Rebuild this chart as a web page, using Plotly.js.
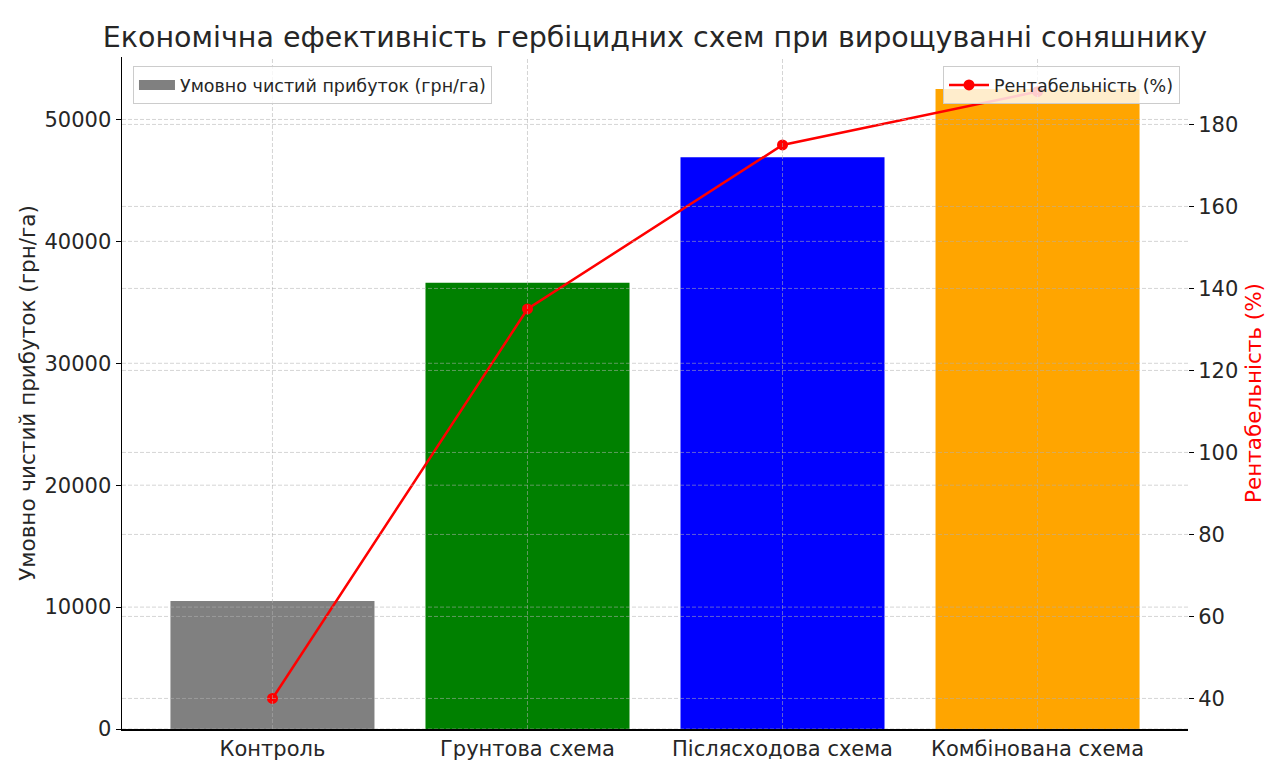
<!DOCTYPE html>
<html>
<head>
<meta charset="utf-8">
<script src="https://cdn.plot.ly/plotly-3.0.1.min.js"></script>
<style>html,body{margin:0;padding:0;background:#fff;}</style>
</head>
<body>
<div id="chart" style="width:1272px;height:764px;"></div>
<script>
// Data
const categories = ["Контроль", "Грунтова схема", "Післясходова схема", "Комбінована схема"];
const profit = [10500, 36600, 46900, 52500];            // грн/га
const profitability = [40, 135, 175, 188];              // %
const barColors = ["gray", "green", "blue", "orange"];
const leftTicks = [0, 10000, 20000, 30000, 40000, 50000];
const rightTicks = [40, 60, 80, 100, 120, 140, 160, 180];
const profitLabel = "Умовно чистий прибуток (грн/га)";
const rentLabel = "Рентабельність (%)";

const FONT = "DejaVu Sans, sans-serif";
const TXT = "#262626";
const GRID = "rgba(176,176,176,0.6)";
const GRIDLINE = {color: GRID, width: 0.9, dash: "4px,2px"};

// Gridlines drawn above bars (as in the reference), derived from tick arrays
const shapes = [];
leftTicks.forEach(v => shapes.push({type:"line", xref:"paper", x0:0, x1:1, yref:"y", y0:v, y1:v,
  line:GRIDLINE, layer:"above"}));
rightTicks.forEach(v => shapes.push({type:"line", xref:"paper", x0:0, x1:1, yref:"y2", y0:v, y1:v,
  line:GRIDLINE, layer:"above"}));
categories.forEach(c => shapes.push({type:"line", xref:"x", x0:c, x1:c, yref:"paper", y0:0, y1:1,
  line:GRIDLINE, layer:"above"}));

const traces = [
  {
    type: "bar",
    x: categories,
    y: profit,
    name: profitLabel,
    marker: {color: barColors, line: {width: 0}},
    width: 0.8,
    yaxis: "y",
    showlegend: false
  },
  // legend entry only (wide rectangular swatch like the reference)
  {
    type: "scatter",
    mode: "lines",
    x: [null],
    y: [null],
    name: profitLabel,
    line: {color: barColors[0], width: 11},
    yaxis: "y",
    legend: "legend",
    showlegend: true
  },
  {
    type: "scatter",
    mode: "lines+markers",
    x: categories,
    y: profitability,
    name: rentLabel,
    line: {color: "red", width: 2.5},
    marker: {color: "red", size: 11},
    yaxis: "y2",
    legend: "legend2"
  }
];

const layout = {
  width: 1272,
  height: 764,
  margin: {l: 122, r: 84, t: 57, b: 35},
  paper_bgcolor: "#fff",
  plot_bgcolor: "#fff",
  font: {family: FONT, color: TXT, size: 18},
  title: {
    text: "Економічна ефективність гербіцидних схем при вирощуванні соняшнику",
    font: {family: FONT, size: 28.5, color: TXT},
    x: 0.5, xref: "paper", xanchor: "center",
    y: 1 - 37/764, yref: "container", yanchor: "middle"
  },
  xaxis: {
    type: "category",
    range: [-0.59, 3.59],
    showgrid: false,
    zeroline: false,
    showline: true, linecolor: "#000", linewidth: 1.5,
    ticks: "",
    tickfont: {family: FONT, size: 21, color: TXT}
  },
  yaxis: {
    range: [0, 55125],
    tickvals: leftTicks,
    ticktext: leftTicks.map(String),
    showgrid: false,
    zeroline: false,
    showline: true, linecolor: "#000", linewidth: 1.5,
    ticks: "outside", ticklen: 5, tickcolor: "#000", tickwidth: 1,
    tickfont: {family: FONT, size: 21, color: TXT},
    title: {text: profitLabel, font: {family: FONT, size: 21.5, color: TXT}, standoff: 3}
  },
  yaxis2: {
    overlaying: "y",
    side: "right",
    range: [32.55, 196.45],
    tickvals: rightTicks,
    showgrid: false,
    zeroline: false,
    showline: false,
    ticks: "outside", ticklen: 5, tickcolor: "#000", tickwidth: 1,
    tickfont: {family: FONT, size: 21, color: TXT},
    title: {text: rentLabel, font: {family: FONT, size: 21.5, color: "red"}, standoff: 8}
  },
  showlegend: true,
  legend: {
    x: 0.0103, y: 0.9866, xanchor: "left", yanchor: "top",
    bgcolor: "rgba(255,255,255,0.8)", bordercolor: "#cccccc", borderwidth: 1,
    font: {family: FONT, size: 17.5, color: TXT},
    itemwidth: 36
  },
  legend2: {
    x: 0.9925, y: 0.9866, xanchor: "right", yanchor: "top",
    bgcolor: "rgba(255,255,255,0.8)", bordercolor: "#cccccc", borderwidth: 1,
    font: {family: FONT, size: 17.5, color: TXT},
    itemwidth: 40
  },
  shapes: shapes
};

Plotly.newPlot("chart", traces, layout, {displayModeBar: false, staticPlot: true});
</script>
</body>
</html>
